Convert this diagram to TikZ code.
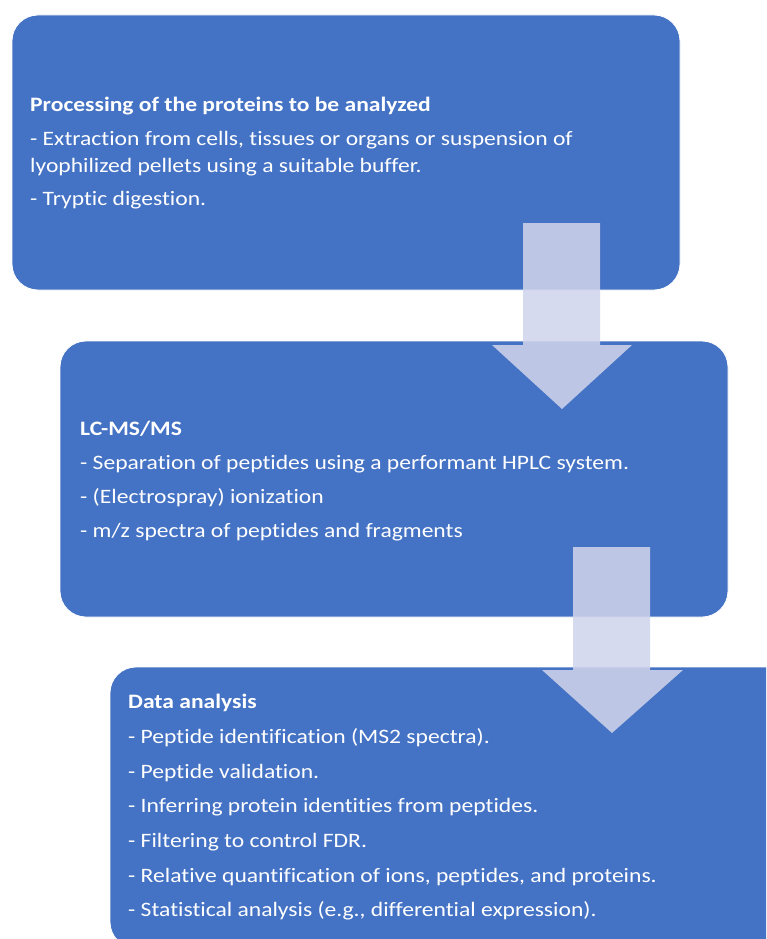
\documentclass[tikz,border=0pt]{standalone}
\usepackage{fontspec}
\setmainfont{Carlito}[FakeStretch=1.15,Ligatures=NoCommon]
\definecolor{boxblue}{HTML}{4472C4}
\definecolor{arrowfill}{RGB}{208,212,235}
\begin{document}
\begin{tikzpicture}[x=1pt,y=-1pt,
  stagebox/.style={fill=boxblue, draw=white, line width=0.8pt, rounded corners=26pt},
  arrowshape/.style={fill=arrowfill, fill opacity=0.87, draw=none},
  txt/.style={anchor=base west, inner sep=0pt, text=white, font=\fontsize{20.5}{24}\selectfont},
  head/.style={txt, font=\fontsize{20.5}{24}\selectfont\bfseries}]
\useasboundingbox (0,0) rectangle (766,939);
\begin{scope}
\clip (0,0) rectangle (766,939);
% boxes
\path[stagebox] (12,15) rectangle (680,290);
\path[stagebox] (60,341) rectangle (728,617);
\path[stagebox] (110,667) rectangle (820,948);
% arrows
\path[arrowshape] (523,223) -- (600,223) -- (600,345) -- (632,345) -- (562,409) -- (492,345) -- (523,345) -- cycle;
\path[arrowshape] (573,547) -- (650,547) -- (650,670) -- (683,670) -- (612,733) -- (542,670) -- (573,670) -- cycle;
\end{scope}
% box 1 text
\node[head] (h1) at (30,112) {Processing of the proteins to be analyzed};
\node[txt] (a1) at (30,145) {- Extraction from cells, tissues or organs or suspension of};
\node[txt] (a2) at (30,172) {lyophilized pellets using a suitable buffer.};
\node[txt] (a3) at (30,205) {- Tryptic digestion.};
% box 2 text
\node[head] (h2) at (80,435) {LC-MS/MS};
\node[txt] (b1) at (80,469) {- Separation of peptides using a performant HPLC system.};
\node[txt] (b2) at (80,503) {- (Electrospray) ionization};
\node[txt] (b3) at (80,537) {- m/z spectra of peptides and fragments};
% box 3 text
\node[head] (h3) at (128,708) {Data analysis};
\node[txt] (c1) at (128,743) {- Peptide identification (MS2 spectra).};
\node[txt] (c2) at (128,778) {- Peptide validation.};
\node[txt] (c3) at (128,812) {- Inferring protein identities from peptides.};
\node[txt] (c4) at (128,847) {- Filtering to control FDR.};
\node[txt] (c5) at (128,882) {- Relative quantification of ions, peptides, and proteins.};
\node[txt] (c6) at (128,916) {- Statistical analysis (e.g., differential expression).};
\end{tikzpicture}
\end{document}
